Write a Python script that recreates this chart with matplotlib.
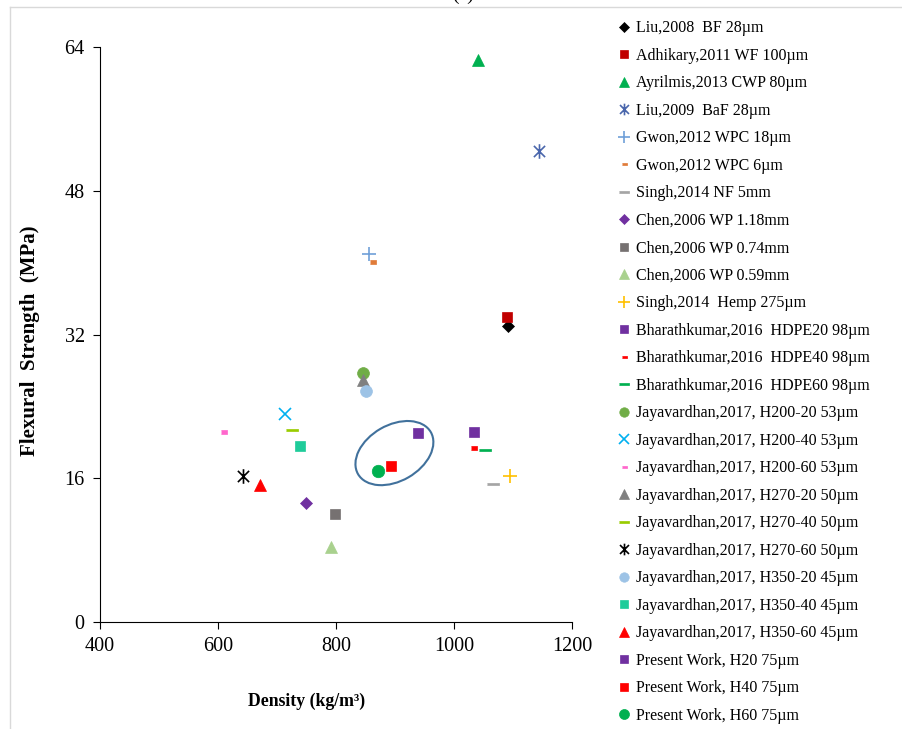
import numpy as np
import matplotlib
matplotlib.use('Agg')
import matplotlib.pyplot as plt
import matplotlib.transforms as mtransforms
from matplotlib.patches import Ellipse
from matplotlib.lines import Line2D
from matplotlib.path import Path

# data
labels = ['Liu,2008  BF 28µm', 'Adhikary,2011 WF 100µm', 'Ayrilmis,2013 CWP 80µm',
          'Liu,2009  BaF 28µm', 'Gwon,2012 WPC 18µm', 'Gwon,2012 WPC 6µm',
          'Singh,2014 NF 5mm', 'Chen,2006 WP 1.18mm', 'Chen,2006 WP 0.74mm',
          'Chen,2006 WP 0.59mm', 'Singh,2014  Hemp 275µm',
          'Bharathkumar,2016  HDPE20 98µm', 'Bharathkumar,2016  HDPE40 98µm',
          'Bharathkumar,2016  HDPE60 98µm',
          'Jayavardhan,2017, H200-20 53µm', 'Jayavardhan,2017, H200-40 53µm',
          'Jayavardhan,2017, H200-60 53µm', 'Jayavardhan,2017, H270-20 50µm',
          'Jayavardhan,2017, H270-40 50µm', 'Jayavardhan,2017, H270-60 50µm',
          'Jayavardhan,2017, H350-20 45µm', 'Jayavardhan,2017, H350-40 45µm',
          'Jayavardhan,2017, H350-60 45µm',
          'Present Work, H20 75µm', 'Present Work, H40 75µm', 'Present Work, H60 75µm']
density = [1091, 1090, 1041, 1144, 856, 862, 1066, 749, 798, 791, 1095,
           1034, 1034, 1052, 846, 714, 610, 846, 725, 642, 851, 739, 671,
           939, 893, 871]
strength = [32.9, 34.0, 62.5, 52.4, 41.0, 40.1, 15.4, 13.2, 12.0, 8.3, 16.3,
            21.1, 19.4, 19.1, 27.7, 23.1, 21.1, 26.9, 21.4, 16.2, 25.7, 19.6, 15.2,
            21.0, 17.4, 16.8]

# marker shapes
star = Path([(-1, -1), (1, 1), (-1, 1), (1, -1), (0, -1.3), (0, 1.3)],
            [Path.MOVETO, Path.LINETO, Path.MOVETO, Path.LINETO, Path.MOVETO, Path.LINETO])
dash_s = [(-1, -0.5), (1, -0.5), (1, 0.5), (-1, 0.5)]
dash_l = [(-1, -0.14), (1, -0.14), (1, 0.14), (-1, 0.14)]

# (marker, color, size)
styles = [('D', '#000000', 6.0), ('s', '#c00000', 7.5), ('^', '#00b050', 8.5),
          (star, '#4a66ac', 10.5), ('+', '#6f9fd8', 10), (dash_s, '#e07b39', 4.5),
          (dash_l, '#a5a5a5', 9), ('D', '#7030a0', 6.0), ('s', '#767171', 7.5),
          ('^', '#a9d18e', 8.5), ('+', '#ffc000', 10), ('s', '#7030a0', 7.5),
          (dash_s, '#ff0000', 4.5), (dash_l, '#00b050', 9), ('o', '#70ad47', 8.5),
          ('x', '#00b0f0', 9), (dash_s, '#ff66cc', 4.5), ('^', '#808080', 8.5),
          (dash_l, '#99cc00', 9), (star, '#000000', 10.5), ('o', '#9dc3e6', 8.5),
          ('s', '#1fcc9a', 7.5), ('^', '#ff0000', 8.5), ('s', '#7030a0', 7.5),
          ('s', '#ff0000', 7.5), ('o', '#00b050', 9)]

plt.rcParams['font.family'] = ['Liberation Serif', 'DejaVu Serif']

fig = plt.figure(figsize=(9.03, 7.29), dpi=100)
ax = fig.add_axes([100 / 903, 1 - 622 / 729, 472 / 903, 575 / 729])

handles = []
for lab, xv, yv, (m, c, s) in zip(labels, density, strength, styles):
    line_marker = m in ('+', 'x') or isinstance(m, Path)
    h, = ax.plot([xv], [yv], linestyle='none', marker=m, markersize=s,
                 color=c, markeredgecolor=c,
                 markerfacecolor='none' if line_marker else c,
                 markeredgewidth=1.2 if line_marker else 0.5, label=lab)
    handles.append(h)

# circled group of present work
trans = fig.dpi_scale_trans + mtransforms.ScaledTranslation(899, 18.8, ax.transData)
ax.add_patch(Ellipse((0, 0), 0.84, 0.56, angle=30, fill=False,
                     edgecolor='#41719c', lw=1.5, transform=trans))

ax.set_xlim(400, 1200)
ax.set_ylim(0, 64)
ax.set_xticks(np.arange(400, 1201, 200))
ax.set_yticks(np.arange(0, 65, 16))
for s in ['top', 'right']:
    ax.spines[s].set_visible(False)
ax.tick_params(direction='out', length=5, labelsize=14.5, pad=6)
ax.set_xlabel('Density (kg/m³)', fontsize=12.8, fontweight='bold')
ax.xaxis.set_label_coords((307 - 100) / 472, -(693 - 622) / 575)
ax.set_ylabel('Flexural  Strength  (MPa)', fontsize=15, fontweight='bold')
ax.yaxis.set_label_coords(-(100 - 40) / 472, 0.49)

fig.legend(handles=handles, loc='upper left', bbox_to_anchor=(610 / 903, 1 - 14 / 729),
           frameon=False, fontsize=11.5, labelspacing=0.72, handlelength=1.0,
           handletextpad=0.25, borderaxespad=0, markerscale=0.8)

# caption and page frame
fig.text(0.513, 1 + 0.5 / 729, '(a)', ha='center', va='baseline', fontsize=14)
fig.add_artist(Line2D([10 / 903, 10 / 903], [0, 1 - 7 / 729], color='#d9d9d9', lw=1,
                      transform=fig.transFigure))
fig.add_artist(Line2D([10 / 903, 1], [1 - 7 / 729, 1 - 7 / 729], color='#d9d9d9', lw=1,
                      transform=fig.transFigure))

fig.savefig('out.png', dpi=100)
